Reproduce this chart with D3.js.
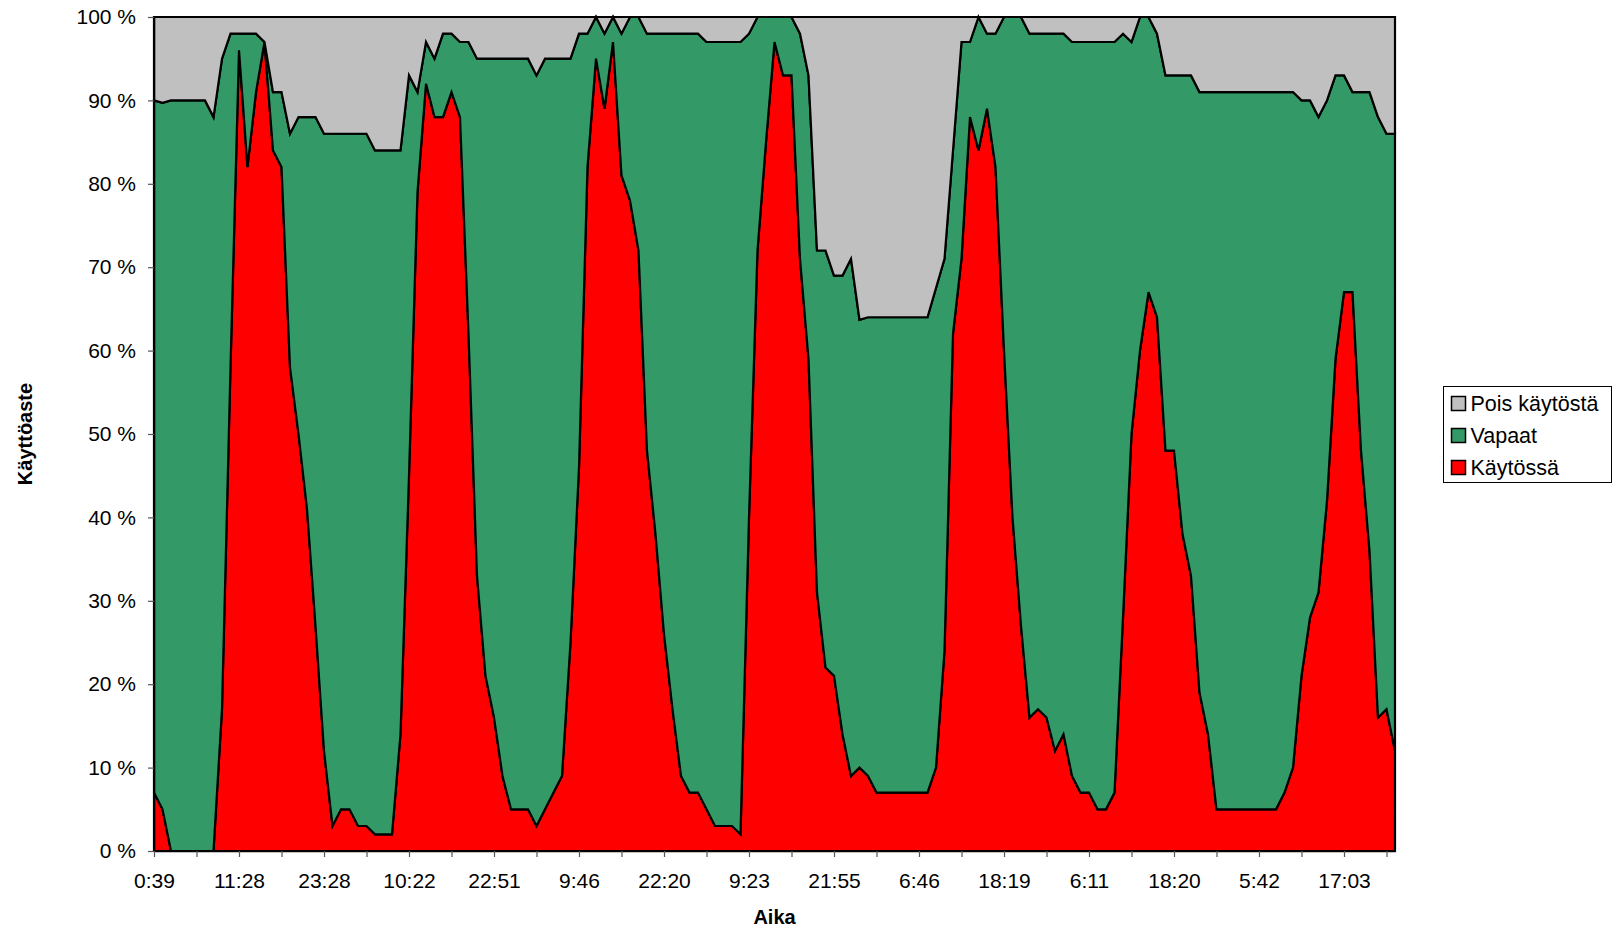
<!DOCTYPE html>
<html>
<head>
<meta charset="utf-8">
<script src="https://cdn.jsdelivr.net/npm/d3@7"></script>
<style>
  body { margin: 0; background: #fff; }
  svg text { font-family: 'Liberation Sans', Arial, sans-serif; fill: #000; }
</style>
</head>
<body>
<div id="vis"></div>
<script>
// values, one per sample (147 samples)
const kaytossa = [
  7, 5, 0, 0, 0, 0, 0, 0, 17, 58,
  96, 82, 91, 97, 84, 82, 58, 50, 41, 27,
  12, 3, 5, 5, 3, 3, 2, 2, 2, 14,
  45, 79, 92, 88, 88, 91, 88, 62, 33, 21,
  16, 9, 5, 5, 5, 3, 5, 7, 9, 25,
  46, 82, 95, 89, 97, 81, 78, 72, 48, 38,
  26, 17, 9, 7, 7, 5, 3, 3, 3, 2,
  40, 72, 85, 97, 93, 93, 71, 59, 31, 22,
  21, 14, 9, 10, 9, 7, 7, 7, 7, 7,
  7, 7, 10, 24, 62, 71, 88, 84, 89, 82,
  60, 40, 27, 16, 17, 16, 12, 14, 9, 7,
  7, 5, 5, 7, 28, 50, 60, 67, 64, 48,
  48, 38, 33, 19, 14, 5, 5, 5, 5, 5,
  5, 5, 5, 7, 10, 21, 28, 31, 42, 59,
  67, 67, 48, 36, 16, 17, 12
];
const vapaat = [
  83, 84.7, 90, 90, 90, 90, 90, 88, 78, 40,
  2, 16, 7, 0, 7, 9, 28, 38, 47, 61,
  74, 83, 81, 81, 83, 83, 82, 82, 82, 70,
  48, 12, 5, 7, 10, 7, 9, 35, 62, 74,
  79, 86, 90, 90, 90, 90, 90, 88, 86, 70,
  52, 16, 5, 9, 3, 17, 22, 28, 50, 60,
  72, 81, 89, 91, 91, 92, 94, 94, 94, 95,
  58, 28, 15, 3, 7, 7, 27, 34, 41, 50,
  48, 55, 62, 53.7, 55, 57, 57, 57, 57, 57,
  57, 57, 57.5, 47, 22, 26, 9, 16, 9, 16,
  40, 60, 73, 82, 81, 82, 86, 84, 88, 90,
  90, 92, 92, 90, 70, 47, 40, 33, 34, 45,
  45, 55, 60, 72, 77, 86, 86, 86, 86, 86,
  86, 86, 86, 84, 81, 69, 62, 57, 48, 34,
  26, 24, 43, 55, 72, 69, 74
];
const poisKaytosta = [
  10, 10.3, 10, 10, 10, 10, 10, 12, 5, 2,
  2, 2, 2, 3, 9, 9, 14, 12, 12, 12,
  14, 14, 14, 14, 14, 14, 16, 16, 16, 16,
  7, 9, 3, 5, 2, 2, 3, 3, 5, 5,
  5, 5, 5, 5, 5, 7, 5, 5, 5, 5,
  2, 2, 0, 2, 0, 2, 0, 0, 2, 2,
  2, 2, 2, 2, 2, 3, 3, 3, 3, 3,
  2, 0, 0, 0, 0, 0, 2, 7, 28, 28,
  31, 31, 29, 36.3, 36, 36, 36, 36, 36, 36,
  36, 36, 32.5, 29, 16, 3, 3, 0, 2, 2,
  0, 0, 0, 2, 2, 2, 2, 2, 3, 3,
  3, 3, 3, 3, 2, 3, 0, 0, 2, 7,
  7, 7, 7, 9, 9, 9, 9, 9, 9, 9,
  9, 9, 9, 9, 9, 10, 10, 12, 10, 7,
  7, 9, 9, 9, 12, 14, 14
];
// every 10th sample carries a time label
const tickLabels = ['0:39', '11:28', '23:28', '10:22', '22:51', '9:46', '22:20',
  '9:23', '21:55', '6:46', '18:19', '6:11', '18:20', '5:42', '17:03'];
const seriesNames = ['Käytössä', 'Vapaat', 'Pois käytöstä'];
const seriesColors = ['#ff0000', '#339966', '#c0c0c0'];
const yTicks = [0, 10, 20, 30, 40, 50, 60, 70, 80, 90, 100];

const W = 1623, H = 932;
const plot = { left: 154, right: 1395, top: 17, bottom: 851 };

const svg = d3.select('#vis').append('svg')
  .attr('width', W)
  .attr('height', H);

const rows = kaytossa.map((k, i) => ({ i: i, k: k, v: vapaat[i], p: poisKaytosta[i] }));
const stacked = d3.stack().keys(['k', 'v', 'p'])(rows);

const x = d3.scaleLinear().domain([0, rows.length - 1]).range([plot.left, plot.right]);
const y = d3.scaleLinear().domain([0, 100]).range([plot.bottom, plot.top]);

const area = d3.area()
  .x(d => x(d.data.i))
  .y0(d => y(d[0]))
  .y1(d => y(d[1]));

svg.append('g')
  .selectAll('path')
  .data(stacked)
  .join('path')
    .attr('d', area)
    .attr('fill', (d, i) => seriesColors[i])
    .attr('stroke', '#000')
    .attr('stroke-width', 2.2)
    .attr('stroke-linejoin', 'miter');

// plot frame
svg.append('rect')
  .attr('x', plot.left)
  .attr('y', plot.top)
  .attr('width', plot.right - plot.left)
  .attr('height', plot.bottom - plot.top)
  .attr('fill', 'none')
  .attr('stroke', '#000')
  .attr('stroke-width', 1.5);

const yAxis = svg.append('g')
  .attr('transform', 'translate(' + plot.left + ',0)')
  .call(d3.axisLeft(y).tickValues(yTicks).tickFormat(d => d + ' %').tickSize(6).tickSizeOuter(0).tickPadding(12));

const xAxis = svg.append('g')
  .attr('transform', 'translate(0,' + plot.bottom + ')')
  .call(d3.axisBottom(x)
    .tickValues(d3.range(0, rows.length - 1, 5))
    .tickFormat(i => i % 10 === 0 ? tickLabels[i / 10] : '')
    .tickSize(6).tickSizeOuter(0).tickPadding(16));

[yAxis, xAxis].forEach(g => {
  g.select('.domain').attr('stroke', '#000').attr('stroke-width', 1.5);
  g.selectAll('.tick line').attr('stroke', '#555').attr('stroke-width', 1.2);
  g.selectAll('.tick text').attr('font-size', 21).attr('font-family', "'Liberation Sans', Arial, sans-serif");
});

// axis titles
svg.append('text')
  .attr('transform', 'translate(25,' + ((plot.top + plot.bottom) / 2) + ') rotate(-90)')
  .attr('text-anchor', 'middle')
  .attr('dominant-baseline', 'central')
  .attr('font-size', 20)
  .attr('font-weight', 'bold')
  .text('Käyttöaste');

svg.append('text')
  .attr('x', (plot.left + plot.right) / 2)
  .attr('y', 917)
  .attr('text-anchor', 'middle')
  .attr('dominant-baseline', 'central')
  .attr('font-size', 20)
  .attr('font-weight', 'bold')
  .text('Aika');

// legend, top entry is the top series
const legend = svg.append('g').attr('transform', 'translate(1443.5,386.5)');
legend.append('rect')
  .attr('width', 168)
  .attr('height', 96)
  .attr('fill', '#fff')
  .attr('stroke', '#000')
  .attr('stroke-width', 1);

const order = [2, 1, 0];
const item = legend.selectAll('g.item')
  .data(order)
  .join('g')
    .attr('class', 'item')
    .attr('transform', (d, j) => 'translate(8,' + (17 + j * 32) + ')');

item.append('rect')
  .attr('x', 0)
  .attr('y', -7)
  .attr('width', 14)
  .attr('height', 14)
  .attr('fill', d => seriesColors[d])
  .attr('stroke', '#000')
  .attr('stroke-width', 1.5);

item.append('text')
  .attr('x', 19)
  .attr('dominant-baseline', 'central')
  .attr('font-size', 21.5)
  .text(d => seriesNames[d]);
</script>
</body>
</html>
